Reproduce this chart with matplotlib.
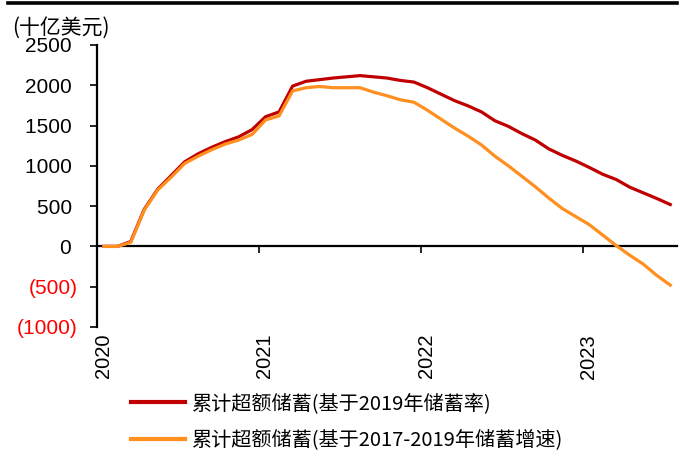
import numpy as np
import matplotlib
matplotlib.use("Agg")
import matplotlib.pyplot as plt
from matplotlib.lines import Line2D
from matplotlib.ticker import FuncFormatter
from matplotlib.transforms import ScaledTranslation

# Monthly data, Jan 2020 - Jul 2023 (billion USD)
months = np.arange(43)
series_rate = [0, 0, 60, 460, 710, 880, 1050, 1150, 1230, 1300, 1360, 1450,
               1610, 1670, 1990, 2050, 2070, 2090, 2105, 2120, 2105, 2090, 2060, 2040,
               1970, 1890, 1810, 1745, 1670, 1560, 1490, 1400, 1320, 1210, 1130, 1060,
               980, 895, 830, 735, 665, 595, 520]
series_growth = [0, 0, 50, 450, 700, 860, 1030, 1120, 1200, 1270, 1320, 1390,
                 1570, 1620, 1930, 1970, 1985, 1970, 1970, 1970, 1915, 1870, 1820, 1790,
                 1690, 1580, 1470, 1370, 1260, 1120, 1000, 870, 740, 600, 470, 370,
                 270, 140, 10, -110, -220, -360, -480]
year_ticks = [0, 12, 24, 36]
year_labels = ["2020", "2021", "2022", "2023"]
y_ticks = [-1000, -500, 0, 500, 1000, 1500, 2000, 2500]
label_rate = "累计超额储蓄(基于2019年储蓄率)"
label_growth = "累计超额储蓄(基于2017-2019年储蓄增速)"
unit_label = "(十亿美元)"

plt.rcParams['font.family'] = ['Liberation Sans', 'DejaVu Sans']
cjk = ['Noto Sans CJK SC', 'DejaVu Sans']

fig = plt.figure(figsize=(6.88, 4.58), dpi=100)
ax = fig.add_axes([97/688, 1-327/458, (677-97)/688, (327-45)/458])

x = months + 0.5
ax.plot(x, series_rate, color='#C00000', lw=2.3, solid_joinstyle='round', zorder=3)
ax.plot(x, series_growth, color='#FF8F1F', lw=2.3, solid_joinstyle='round', zorder=3)

ax.set_xlim(0, 43)
ax.set_ylim(-1000, 2500)
ax.set_yticks(y_ticks)
ax.yaxis.set_major_formatter(FuncFormatter(lambda v, p: f"({abs(int(v))})" if v < 0 else f"{int(v)} "))

ax.spines['top'].set_visible(False)
ax.spines['right'].set_visible(False)
ax.spines['left'].set_linewidth(1.6)
ax.spines['bottom'].set_position(('data', 0))
ax.spines['bottom'].set_linewidth(1.6)

ax.set_xticks(year_ticks)
ax.set_xticklabels(year_labels, rotation=90, va='top', ha='center')
ax.tick_params(axis='x', direction='out', length=5, width=1.2, pad=58, labelsize=14.5)
ax.tick_params(axis='y', direction='out', length=5, width=1.2, pad=9, labelsize=15)

fig.canvas.draw()
for lab, v in zip(ax.get_yticklabels(), y_ticks):
    if v < 0:
        lab.set_color('red')
for lab in ax.get_xticklabels():
    lab.set_transform(lab.get_transform() + ScaledTranslation(6/100, 0, fig.dpi_scale_trans))

fig.text(12/688, 1-28/458, unit_label, family=cjk, fontsize=15, va='center', ha='left')

fig.add_artist(Line2D([8/688, 677/688], [1-2.5/458, 1-2.5/458], color='black', lw=2.6))

handles = [Line2D([], [], color='#C00000', lw=3), Line2D([], [], color='#FF8F1F', lw=3)]
leg = fig.legend(handles, [label_rate, label_growth], loc='upper left',
                 bbox_to_anchor=(131/688, 1-393/458), frameon=False,
                 prop={'family': cjk, 'size': 14.5}, handlelength=2.7,
                 handletextpad=0.35, labelspacing=0.8, borderpad=0, borderaxespad=0)

fig.savefig("out.png", dpi=100)
